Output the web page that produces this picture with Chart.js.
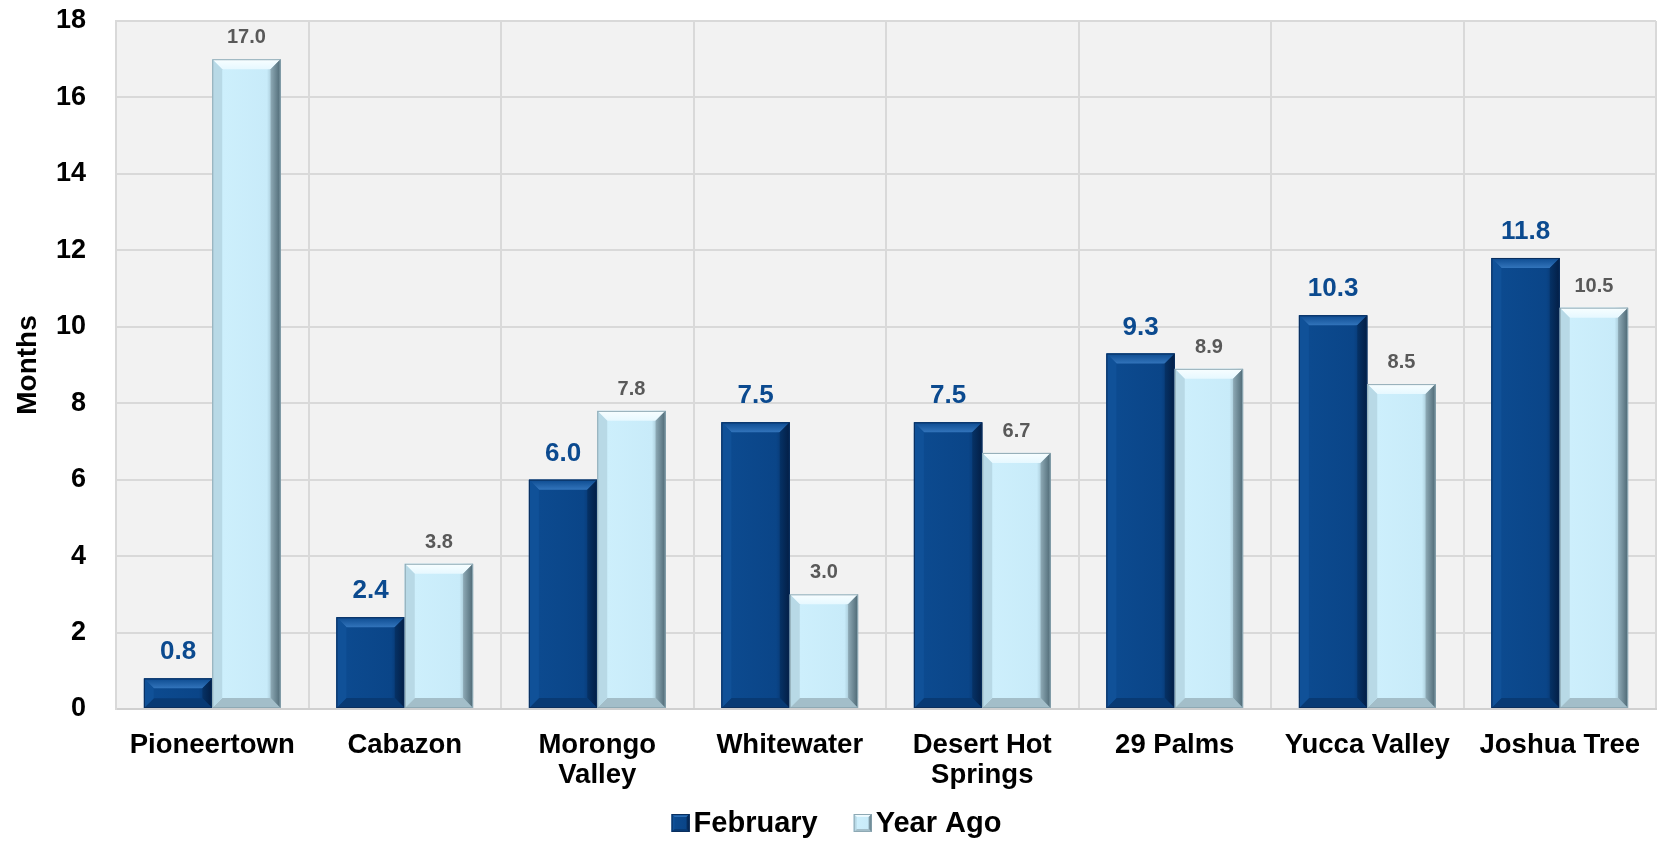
<!DOCTYPE html>
<html>
<head>
<meta charset="utf-8">
<script src="https://cdn.jsdelivr.net/npm/chart.js@4.4.1/dist/chart.umd.min.js"></script>
<style>
  html, body { margin: 0; padding: 0; background: #ffffff; }
  #wrap { width: 1661px; height: 841px; }
</style>
</head>
<body>
<div id="wrap"><canvas id="monthschart" width="1661" height="841"></canvas></div>
<script>
// chart values
var towns = ["Pioneertown", "Cabazon", ["Morongo", "Valley"], "Whitewater", ["Desert Hot", "Springs"], "29 Palms", "Yucca Valley", "Joshua Tree"];
var february = [0.8, 2.4, 6.0, 7.5, 7.5, 9.3, 10.3, 11.8];
var yearAgo = [17.0, 3.8, 7.8, 3.0, 6.7, 8.9, 8.5, 10.5];
var seriesNames = ["February", "Year Ago"];

var FONT = "'Liberation Sans', Arial, sans-serif";

// draws one bevelled box (bars and legend swatches)
function drawBevel(c, x0, y0, x1, y1, dark, bmax) {
  var b = Math.min(bmax, (y1 - y0) / 3, (x1 - x0) / 3);
  var g = c.createLinearGradient(x0, 0, x1, 0);
  if (dark) {
    g.addColorStop(0, "#12549c"); g.addColorStop(0.15, "#0c4a8f");
    g.addColorStop(0.8, "#0a4588"); g.addColorStop(1, "#052a5c");
  } else {
    g.addColorStop(0, "#c0e3f1"); g.addColorStop(0.15, "#cdeffc");
    g.addColorStop(0.8, "#c8ebf9"); g.addColorStop(1, "#6a8996");
  }
  c.fillStyle = g;
  c.fillRect(x0, y0, x1 - x0, y1 - y0);
  // top
  var gt = c.createLinearGradient(0, y0, 0, y0 + b);
  if (dark) { gt.addColorStop(0, "#0d4b90"); gt.addColorStop(1, "#3274bb"); }
  else { gt.addColorStop(0, "#f8feff"); gt.addColorStop(1, "#e6f8ff"); }
  c.fillStyle = gt;
  c.beginPath();
  c.moveTo(x0, y0); c.lineTo(x1, y0); c.lineTo(x1 - b, y0 + b); c.lineTo(x0 + b, y0 + b);
  c.closePath(); c.fill();
  // right
  var gr = c.createLinearGradient(x1 - b, 0, x1, 0);
  if (dark) { gr.addColorStop(0, "#063266"); gr.addColorStop(1, "#031e45"); }
  else { gr.addColorStop(0, "#8eaab6"); gr.addColorStop(1, "#4d6874"); }
  c.fillStyle = gr;
  c.beginPath();
  c.moveTo(x1, y0); c.lineTo(x1, y1); c.lineTo(x1 - b, y1 - b); c.lineTo(x1 - b, y0 + b);
  c.closePath(); c.fill();
  // bottom
  c.fillStyle = dark ? "#083a74" : "#a3bec9";
  c.beginPath();
  c.moveTo(x0, y1); c.lineTo(x1, y1); c.lineTo(x1 - b, y1 - b); c.lineTo(x0 + b, y1 - b);
  c.closePath(); c.fill();
  // left
  c.fillStyle = dark ? "#105198" : "#b8d9e6";
  c.beginPath();
  c.moveTo(x0, y0); c.lineTo(x0 + b, y0 + b); c.lineTo(x0 + b, y1 - b); c.lineTo(x0, y1);
  c.closePath(); c.fill();
  c.strokeStyle = dark ? "#0a2f5e" : "#8ea9b4";
  c.lineWidth = 1;
  c.strokeRect(x0 + 0.5, y0 + 0.5, x1 - x0 - 1, y1 - y0 - 1);
}

// grey plot background
var plotBackground = {
  id: "plotBackground",
  beforeDraw: function(chart) {
    var a = chart.chartArea, c = chart.ctx;
    c.save();
    c.fillStyle = "#f2f2f2";
    c.fillRect(a.left, a.top, a.right - a.left, a.bottom - a.top);
    c.restore();
  }
};

// bevel look on each bar + value labels
var bevelBars = {
  id: "bevelBars",
  afterDatasetsDraw: function(chart) {
    var c = chart.ctx;
    chart.data.datasets.forEach(function(ds, di) {
      var meta = chart.getDatasetMeta(di);
      var dark = di === 0;
      meta.data.forEach(function(el, i) {
        var x0 = el.x - el.width / 2, x1 = el.x + el.width / 2;
        c.save();
        drawBevel(c, x0, el.y, x1, el.base, dark, 10);
        c.textAlign = "center";
        c.textBaseline = "alphabetic";
        if (dark) {
          c.font = "bold 26px " + FONT;
          c.fillStyle = "#0b4a8f";
          c.fillText(ds.data[i].toFixed(1), el.x, el.y - 19);
        } else {
          c.font = "bold 20px " + FONT;
          c.fillStyle = "#595959";
          c.fillText(ds.data[i].toFixed(1), el.x, el.y - 16);
        }
        c.restore();
      });
    });
  }
};

// legend at the bottom, tighter than the built-in one
var bottomLegend = {
  id: "bottomLegend",
  afterDraw: function(chart) {
    var c = chart.ctx;
    c.save();
    c.font = "bold 29px " + FONT;
    c.textBaseline = "middle";
    c.textAlign = "left";
    var box = 18, gapText = 4, gapItem = 36;
    var total = 0;
    seriesNames.forEach(function(n, i) {
      total += box + gapText + c.measureText(n).width + (i > 0 ? gapItem : 0);
    });
    var x = chart.width / 2 - total / 2 + 6;
    var y = 823;
    seriesNames.forEach(function(n, i) {
      if (i > 0) x += gapItem;
      drawBevel(c, x, y - box / 2, x + box, y + box / 2, i === 0, 3);
      x += box + gapText;
      c.fillStyle = "#000000";
      c.fillText(n, x, y + 1);
      x += c.measureText(n).width;
    });
    c.restore();
  }
};

var ctx = document.getElementById("monthschart").getContext("2d");

var mChart = new Chart(ctx, {
  type: "bar",
  data: {
    labels: towns,
    datasets: [
      { label: seriesNames[0], data: february, backgroundColor: "#0c4a8f", categoryPercentage: 0.71, barPercentage: 1.0 },
      { label: seriesNames[1], data: yearAgo, backgroundColor: "#cdeffc", categoryPercentage: 0.71, barPercentage: 1.0 }
    ]
  },
  options: {
    responsive: false,
    animation: false,
    layout: { padding: { top: 21, right: 5, left: 0, bottom: 44 } },
    plugins: {
      tooltip: { enabled: false },
      legend: { display: false }
    },
    scales: {
      x: {
        afterFit: function(scale) {
          scale.height = 88;
          scale.paddingLeft = 0;
          scale.paddingRight = 0;
        },
        grid: { color: "#d9d9d9", lineWidth: 2, drawTicks: false },
        border: { color: "#d0d0d0", width: 2 },
        ticks: {
          color: "#000000",
          padding: 21,
          maxRotation: 0,
          autoSkip: false,
          font: { family: FONT, size: 27.5, weight: "bold", lineHeight: 1.1 }
        }
      },
      y: {
        min: 0,
        max: 18,
        afterFit: function(scale) {
          scale.width = 116;
          scale.paddingTop = 0;
          scale.paddingBottom = 0;
        },
        grid: { color: "#d9d9d9", lineWidth: 2, drawTicks: false },
        border: { color: "#d9d9d9", width: 2 },
        ticks: {
          stepSize: 2,
          color: "#000000",
          padding: 30,
          font: { family: FONT, size: 27, weight: "bold" }
        },
        title: {
          display: true,
          text: "Months",
          color: "#000000",
          padding: { top: 11, bottom: 0 },
          font: { family: FONT, size: 28, weight: "bold" }
        }
      }
    }
  },
  plugins: [plotBackground, bevelBars, bottomLegend]
});
</script>
</body>
</html>
